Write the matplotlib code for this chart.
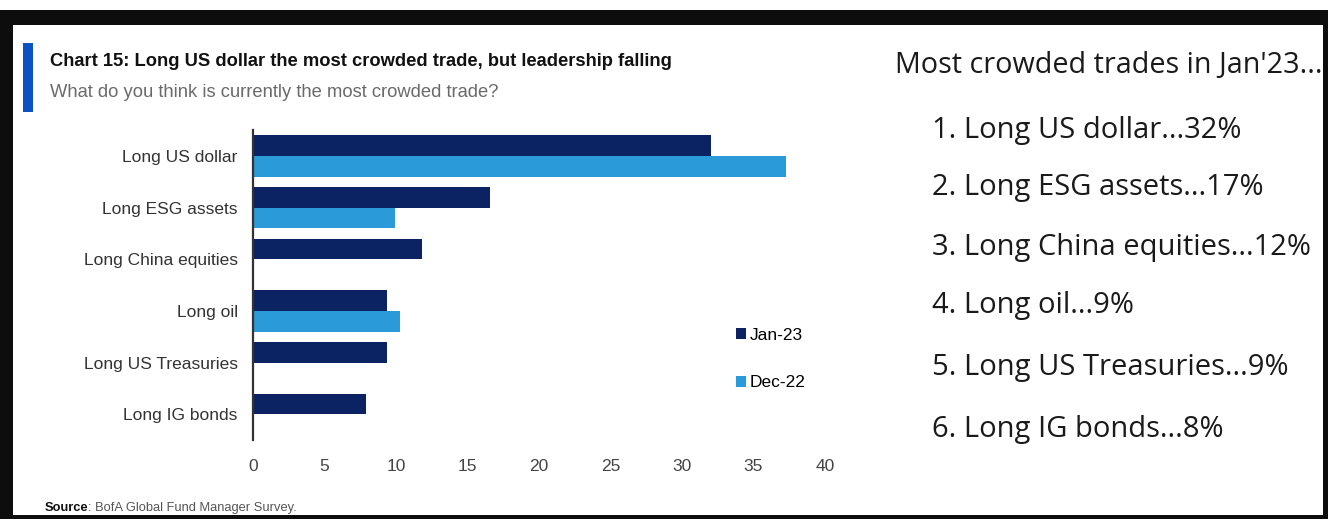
import matplotlib
matplotlib.use("Agg")
import matplotlib.pyplot as plt
from matplotlib.patches import Rectangle

W, H = 1328, 519

trades = ["Long US dollar", "Long ESG assets", "Long China equities",
          "Long oil", "Long US Treasuries", "Long IG bonds"]
jan23 = [32.0, 16.6, 11.8, 9.4, 9.4, 7.9]
dec22 = [37.3, 9.9, 0.0, 10.3, 0.0, 0.0]
series_names = ["Jan-23", "Dec-22"]
x_ticks = [0, 5, 10, 15, 20, 25, 30, 35, 40]

navy = "#0b2263"
light = "#2b9ad8"
narrow = ["Liberation Sans", "DejaVu Sans"]
wide = ["Open Sans", "DejaVu Sans"]


def fx(x):
    return x / W


def fy(y):
    return 1 - y / H


fig = plt.figure(figsize=(W / 100, H / 100), dpi=100)
fig.patch.set_facecolor("white")

# dark frame around the page
frame = [(0, 10, W, 15), (0, 10, 13, H - 10), (1323, 10, 5, H - 10), (0, 515, W, 4)]
for x0, y0, w, h in frame:
    fig.add_artist(Rectangle((fx(x0), fy(y0 + h)), w / W, h / H,
                             transform=fig.transFigure, color="#0d0d0d", lw=0))

# blue accent beside the title
fig.add_artist(Rectangle((fx(23), fy(112)), 10 / W, 69 / H,
                         transform=fig.transFigure, color="#0b52c4", lw=0))

fig.text(fx(50), fy(62), "Chart 15: Long US dollar the most crowded trade, but leadership falling",
         family=narrow, weight="bold", fontsize=13.2, color="#111111", va="center", ha="left")
fig.text(fx(50), fy(92), "What do you think is currently the most crowded trade?",
         family=narrow, fontsize=13.2, color="#6a6a6a", va="center", ha="left")

fig.text(fx(45), fy(508), "Source", family=narrow, weight="bold",
         fontsize=9.3, color="#111111", va="center", ha="left")
fig.text(fx(87.5), fy(508), ": BofA Global Fund Manager Survey.", family=narrow,
         fontsize=9.3, color="#555555", va="center", ha="left")

ax = fig.add_axes([fx(253), fy(440), (825 - 253) / W, (440 - 130) / H])
pos = list(range(len(trades)))
bh = 0.4
ax.barh([p - bh / 2 for p in pos], jan23, height=bh, color=navy, label=series_names[0])
ax.barh([p + bh / 2 for p in pos], dec22, height=bh, color=light, label=series_names[1])

ax.set_xlim(0, 40)
ax.set_ylim(len(trades) - 0.5, -0.5)
ax.set_yticks(pos)
ax.set_yticklabels(trades, family=narrow, fontsize=12.5, color="#333333")
ax.set_xticks(x_ticks)
ax.set_xticklabels([str(t) for t in x_ticks], family=narrow, fontsize=12.5, color="#444444")
ax.tick_params(axis="both", length=0)
ax.tick_params(axis="y", pad=11)
ax.tick_params(axis="x", pad=14)
for s in ["top", "right", "bottom"]:
    ax.spines[s].set_visible(False)
ax.spines["left"].set_color("#333333")
ax.spines["left"].set_linewidth(1.6)

ax.legend(loc="center left", bbox_to_anchor=(fx(720), fy(359)), bbox_transform=fig.transFigure,
          frameon=False, prop={"family": narrow, "size": 12.5}, labelspacing=1.9,
          handlelength=0.6, handleheight=0.6, handletextpad=0.2)

# ranked list on the right
fig.text(fx(895), fy(66), "Most crowded trades in Jan'23...", family=wide,
         fontsize=20.7, color="#1a1a1a", va="center", ha="left")
list_y = [130, 188, 247, 306, 368, 430]
for i, (name, v) in enumerate(zip(trades, jan23)):
    fig.text(fx(932), fy(list_y[i]), f"{i + 1}. {name}...{round(v)}%",
             family=wide, fontsize=21, color="#1a1a1a", va="center", ha="left")

fig.savefig("out.png", dpi=100, facecolor="white")
